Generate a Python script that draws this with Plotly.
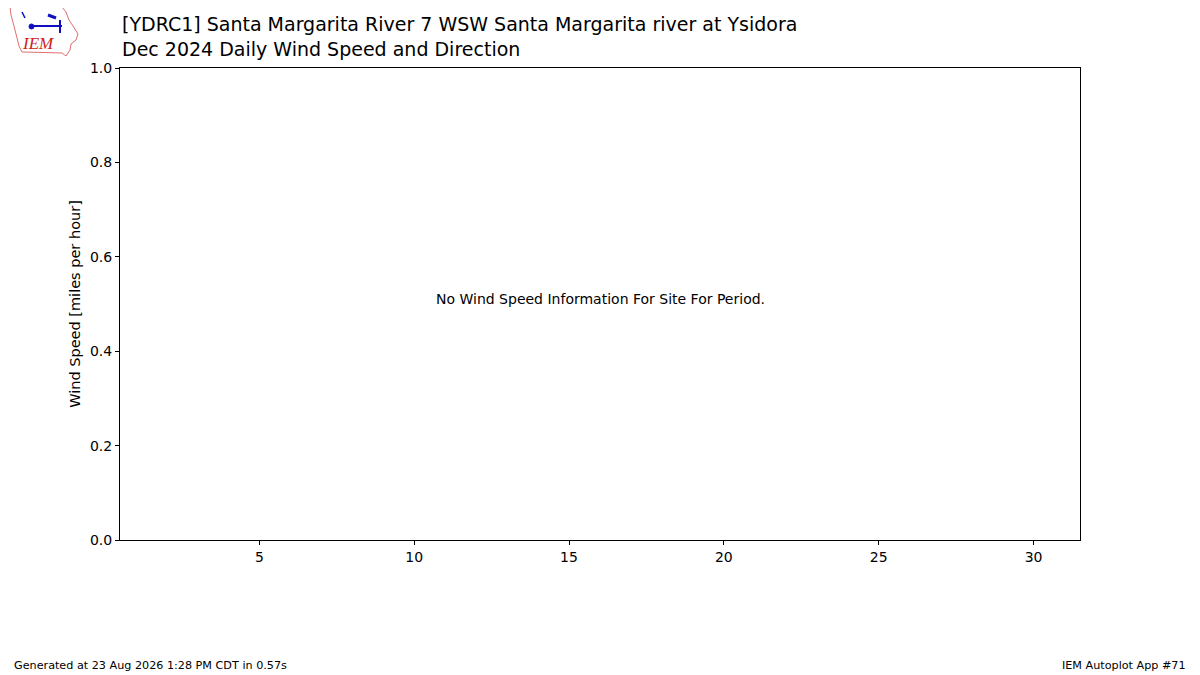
import plotly.graph_objects as go

# data for the chart (empty: no wind observations for the period)
days = list(range(1, 32))
wind_speed = [None] * len(days)
x_ticks = [5, 10, 15, 20, 25, 30]
y_ticks = [0.0, 0.2, 0.4, 0.6, 0.8, 1.0]
y_tick_labels = ["0.0", "0.2", "0.4", "0.6", "0.8", "1.0"]

title_line1 = "[YDRC1] Santa Margarita River 7 WSW Santa Margarita river at Ysidora"
title_line2 = "Dec 2024 Daily Wind Speed and Direction"
no_data_msg = "No Wind Speed Information For Site For Period."
footer_left = "Generated at 23 Aug 2026 1:28 PM CDT in 0.57s"
footer_right = "IEM Autoplot App #71"

# the page puts the figure 8px in from the top-left corner, so shrink it by that
OFF = 8
W, H = 1200 - OFF, 675 - OFF
L, R, T, B = 120 - OFF, 1080 - OFF, 68 - OFF, 540 - OFF
FONT = "DejaVu Sans"


def px(x):
    # window pixel x -> paper x
    return (x - OFF - L) / (R - L)


def py(y):
    # window pixel y -> paper y
    return (B - (y - OFF)) / (B - T)


fig = go.Figure()
fig.add_trace(go.Scatter(x=days, y=wind_speed, mode="lines", showlegend=False))

# IEM logo (rough sketch)
iowa = [(10, 7), (62, 7), (66, 12), (69, 20), (73, 26), (78, 34), (76, 40),
        (71, 44), (70, 50), (66, 56), (62, 53), (22, 52), (19, 46), (17, 38),
        (14, 26), (11, 15)]
path = "M " + " L ".join("{:.5f},{:.5f}".format(px(a), py(b)) for a, b in iowa) + " Z"
blue = "#1010c0"
shapes = [
    dict(type="path", path=path, xref="paper", yref="paper", layer="above",
         line=dict(color="#e07070", width=1), fillcolor="rgba(0,0,0,0)"),
    dict(type="line", xref="paper", yref="paper", x0=px(30), y0=py(26), x1=px(62), y1=py(26),
         line=dict(color=blue, width=2)),
    dict(type="line", xref="paper", yref="paper", x0=px(60), y0=py(20), x1=px(60), y1=py(33),
         line=dict(color=blue, width=2)),
    dict(type="line", xref="paper", yref="paper", x0=px(48), y0=py(15), x1=px(56), y1=py(18),
         line=dict(color=blue, width=3)),
    dict(type="line", xref="paper", yref="paper", x0=px(22), y0=py(12), x1=px(25), y1=py(18),
         line=dict(color=blue, width=1.5)),
    dict(type="circle", xref="paper", yref="paper", x0=px(29), y0=py(24), x1=px(34), y1=py(29),
         fillcolor=blue, line=dict(color=blue, width=1)),
]

annotations = [
    dict(text="<i>IEM</i>", x=px(38), y=py(44), xref="paper", yref="paper", showarrow=False,
         xanchor="center", yanchor="middle",
         font=dict(family="Liberation Serif", size=17, color="#d02020")),
    dict(text=no_data_msg, x=16, y=py(299), xref="x", yref="paper", showarrow=False,
         xanchor="center", yanchor="middle", font=dict(family=FONT, size=14, color="black")),
    dict(text=title_line1 + "<br>" + title_line2, x=px(120), y=py(11), xref="paper", yref="paper",
         showarrow=False, xanchor="left", yanchor="top", align="left",
         font=dict(family=FONT, size=19, color="black")),
    dict(text=footer_left, x=px(12), y=py(665), xref="paper", yref="paper", showarrow=False,
         xanchor="left", yanchor="middle", font=dict(family=FONT, size=11.2, color="black")),
    dict(text=footer_right, x=px(1188), y=py(665), xref="paper", yref="paper", showarrow=False,
         xanchor="right", yanchor="middle", font=dict(family=FONT, size=11.2, color="black")),
]

fig.update_layout(
    width=W, height=H,
    margin=dict(l=L, r=W - R, t=T, b=H - B, pad=0),
    plot_bgcolor="white", paper_bgcolor="white",
    font=dict(family=FONT, size=14, color="black"),
    shapes=shapes, annotations=annotations,
)
fig.update_xaxes(range=[0.5, 31.5], tickvals=x_ticks, ticks="outside", ticklen=4,
                 showgrid=False, zeroline=False, showline=True, linecolor="black",
                 linewidth=1, mirror=True, tickcolor="black", tickfont=dict(size=14))
fig.update_yaxes(range=[0, 1], tickvals=y_ticks, ticktext=y_tick_labels, ticks="outside",
                 ticklen=4, showgrid=False, zeroline=False, showline=True, linecolor="black",
                 linewidth=1, mirror=True, tickcolor="black", tickfont=dict(size=14),
                 title=dict(text="Wind Speed [miles per hour]", standoff=5,
                            font=dict(family=FONT, size=14.5)))

fig.write_html("out.html")
